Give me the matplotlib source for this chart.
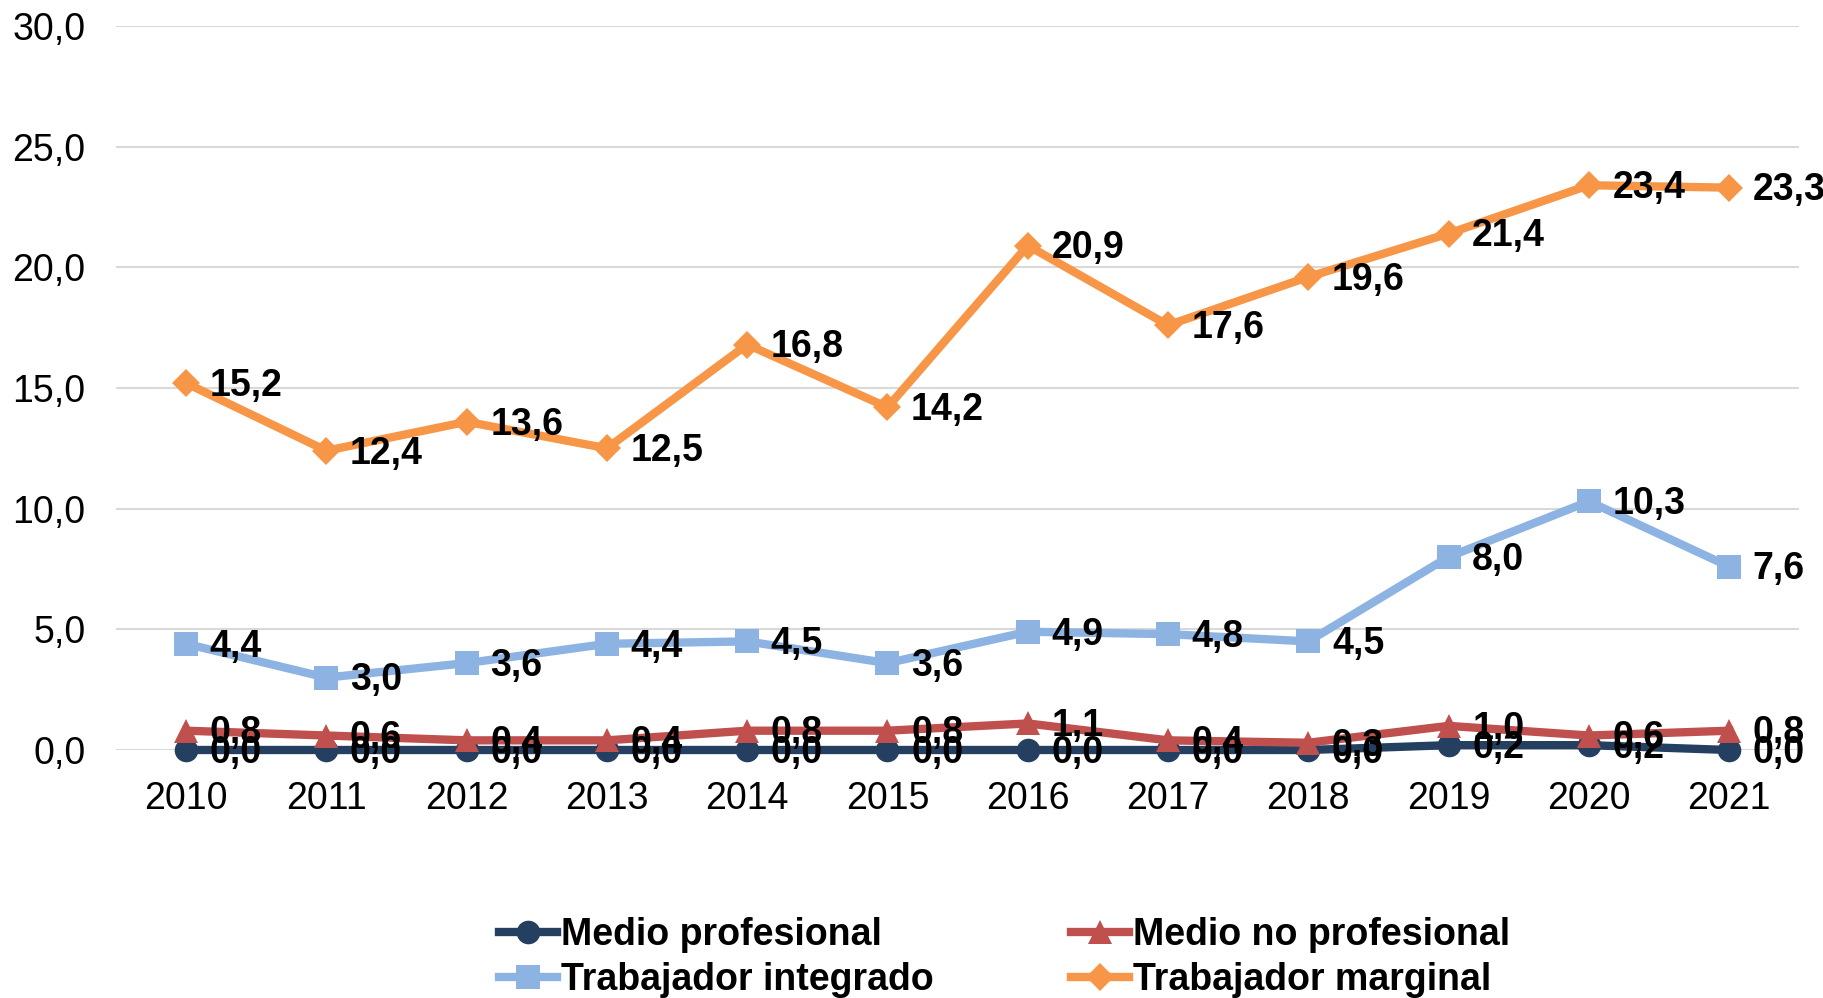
import matplotlib
matplotlib.use("Agg")
import matplotlib.pyplot as plt

plt.rcParams['font.family'] = ['Liberation Sans', 'DejaVu Sans']

years = ["2010", "2011", "2012", "2013", "2014", "2015",
         "2016", "2017", "2018", "2019", "2020", "2021"]

medio_profesional = [0.0, 0.0, 0.0, 0.0, 0.0, 0.0, 0.0, 0.0, 0.0, 0.2, 0.2, 0.0]
medio_no_profesional = [0.8, 0.6, 0.4, 0.4, 0.8, 0.8, 1.1, 0.4, 0.3, 1.0, 0.6, 0.8]
trabajador_integrado = [4.4, 3.0, 3.6, 4.4, 4.5, 3.6, 4.9, 4.8, 4.5, 8.0, 10.3, 7.6]
trabajador_marginal = [15.2, 12.4, 13.6, 12.5, 16.8, 14.2, 20.9, 17.6, 19.6, 21.4, 23.4, 23.3]

yticks = [0, 5, 10, 15, 20, 25, 30]

series = [
    ("Medio profesional", medio_profesional, "#243F60", "o", 17),
    ("Medio no profesional", medio_no_profesional, "#C0504D", "^", 17),
    ("Trabajador integrado", trabajador_integrado, "#8DB3E2", "s", 17),
    ("Trabajador marginal", trabajador_marginal, "#F79646", "D", 14),
]

fig = plt.figure(figsize=(18.23, 9.98), dpi=100)
ax = fig.add_axes([0.0636, 0.2485, 0.9234, 0.7255])

x = list(range(len(years)))
handles = {}
for name, vals, col, mk, ms in series:
    ln, = ax.plot(x, vals, color=col, lw=6, marker=mk, markersize=ms,
                  markeredgewidth=0, label=name, zorder=3, clip_on=False)
    handles[name] = ln

# data labels on top of all lines
for name, vals, col, mk, ms in series:
    for xi, v in zip(x, vals):
        ax.annotate(f"{v:.1f}".replace(".", ","), (xi, v), xytext=(17, -2),
                    textcoords="offset points", ha="left", va="center",
                    fontsize=27, fontweight="bold", color="black", zorder=5,
                    annotation_clip=False)

ax.set_xlim(-0.5, len(years) - 0.5)
ax.set_ylim(0, 30)
ax.set_yticks(yticks)
ax.set_yticklabels([f"{t:.1f}".replace(".", ",") for t in yticks])
ax.set_xticks(x)
ax.set_xticklabels(years)
ax.tick_params(axis="both", length=0, labelsize=27)
ax.tick_params(axis="y", pad=22)
ax.tick_params(axis="x", pad=22)
ax.grid(axis="y", color="#D9D9D9", lw=1.5, zorder=0)
ax.set_axisbelow(True)
for s in ax.spines.values():
    s.set_visible(False)

order = ["Medio profesional", "Trabajador integrado",
         "Medio no profesional", "Trabajador marginal"]
fig.legend([handles[n] for n in order], order, ncol=2, loc="center",
           bbox_to_anchor=(0.551, 0.0405), frameon=False,
           prop={"size": 27, "weight": "bold"}, handlelength=1.55,
           handletextpad=0.1, columnspacing=3.65, labelspacing=0.25,
           markerscale=1.0, borderpad=0)

fig.savefig("out.png", dpi=100)
